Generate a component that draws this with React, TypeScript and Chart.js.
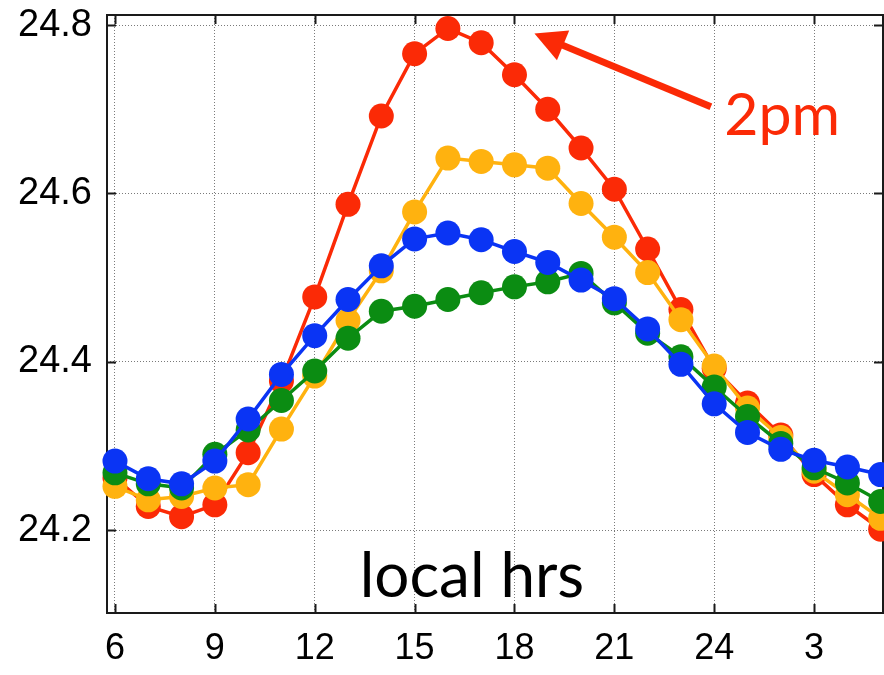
import React, { useEffect, useRef } from "react";
import { Chart, registerables } from "chart.js";

Chart.register(...registerables);

// local hours (6 .. 29 = 5am next day)
const hours = [6, 7, 8, 9, 10, 11, 12, 13, 14, 15, 16, 17, 18, 19, 20, 21, 22, 23, 24, 25, 26, 27, 28, 29];

const redSeries = [24.262, 24.228, 24.216, 24.230, 24.292, 24.377, 24.477, 24.587, 24.692, 24.766, 24.796, 24.779,
  24.741, 24.700, 24.654, 24.605, 24.534, 24.462, 24.392, 24.351, 24.313, 24.266, 24.230, 24.201];
const yellowSeries = [24.252, 24.236, 24.240, 24.250, 24.254, 24.320, 24.383, 24.449, 24.508, 24.578, 24.642, 24.638,
  24.634, 24.630, 24.588, 24.548, 24.506, 24.450, 24.395, 24.345, 24.310, 24.270, 24.242, 24.214];
const greenSeries = [24.268, 24.255, 24.250, 24.290, 24.319, 24.354, 24.389, 24.428, 24.460, 24.466, 24.474, 24.482,
  24.489, 24.495, 24.505, 24.470, 24.434, 24.406, 24.370, 24.335, 24.303, 24.274, 24.256, 24.234];
const blueSeries = [24.282, 24.261, 24.255, 24.282, 24.332, 24.385, 24.431, 24.474, 24.514, 24.546, 24.553, 24.545,
  24.531, 24.518, 24.497, 24.475, 24.439, 24.397, 24.350, 24.316, 24.296, 24.283, 24.275, 24.266];

const xTickValues = [6, 9, 12, 15, 18, 21, 24, 27];
const xTickLabels = ["6", "9", "12", "15", "18", "21", "24", "3"];
const yTickValues = [24.2, 24.4, 24.6, 24.8];
const yTickLabels = ["24.2", "24.4", "24.6", "24.8"];

const xLabelText = "local hrs";
const peakLabelText = "2pm";

const RED = "#fb2a06";
const YELLOW = "#ffb20f";
const GREEN = "#0b8c12";
const BLUE = "#0a34f4";

const toPoints = (vals: number[]) => hours.map((h, i) => ({ x: h, y: vals[i] }));
const noPad = () => ({ left: 0, top: 0, right: 0, bottom: 0 });

const framePlugin = {
  id: "frame",
  beforeDatasetsDraw(chart: any) {
    const { ctx, chartArea: a, scales } = chart;
    ctx.save();
    ctx.strokeStyle = "#1a1a1a";
    ctx.lineWidth = 2;
    ctx.strokeRect(a.left, a.top, a.right - a.left, a.bottom - a.top);
    ctx.beginPath();
    const tl = 9;
    for (const v of xTickValues) {
      const x = Math.round(scales.x.getPixelForValue(v)) + 0.5;
      ctx.moveTo(x, a.top);
      ctx.lineTo(x, a.top + tl);
      ctx.moveTo(x, a.bottom);
      ctx.lineTo(x, a.bottom - tl);
    }
    for (const v of yTickValues) {
      const y = Math.round(scales.y.getPixelForValue(v)) + 0.5;
      ctx.moveTo(a.left, y);
      ctx.lineTo(a.left + tl, y);
      ctx.moveTo(a.right, y);
      ctx.lineTo(a.right - tl, y);
    }
    ctx.stroke();
    ctx.restore();
  },
  afterDraw(chart: any) {
    const { ctx, scales } = chart;
    const xs = scales.x;
    const ys = scales.y;
    ctx.save();
    // x axis label inside plot
    ctx.fillStyle = "#000";
    ctx.font = "62px Lato, 'Open Sans', sans-serif";
    ctx.textBaseline = "alphabetic";
    ctx.textAlign = "left";
    ctx.fillText(xLabelText, xs.getPixelForValue(13.35), ys.getPixelForValue(24.121));

    // 2pm label
    ctx.fillStyle = RED;
    ctx.font = "59px Lato, 'Open Sans', sans-serif";
    ctx.fillText(peakLabelText, xs.getPixelForValue(24.3), ys.getPixelForValue(24.669));

    // arrow
    const tipX = xs.getPixelForValue(18.6);
    const tipY = ys.getPixelForValue(24.79);
    const tailX = xs.getPixelForValue(23.9);
    const tailY = ys.getPixelForValue(24.703);
    const dx = tipX - tailX;
    const dy = tipY - tailY;
    const len = Math.hypot(dx, dy);
    const ux = dx / len;
    const uy = dy / len;
    const headLen = 31;
    const headHalf = 16;
    const bx = tipX - headLen * ux;
    const by = tipY - headLen * uy;
    ctx.strokeStyle = RED;
    ctx.lineWidth = 7;
    ctx.beginPath();
    ctx.moveTo(tailX, tailY);
    ctx.lineTo(bx + 4 * ux, by + 4 * uy);
    ctx.stroke();
    ctx.fillStyle = RED;
    ctx.beginPath();
    ctx.moveTo(tipX, tipY);
    ctx.lineTo(bx - headHalf * uy, by + headHalf * ux);
    ctx.lineTo(bx + headHalf * uy, by - headHalf * ux);
    ctx.closePath();
    ctx.fill();
    ctx.restore();
  },
};

function makeDataset(label: string, vals: number[], color: string) {
  return {
    label,
    data: toPoints(vals),
    borderColor: color,
    backgroundColor: color,
    pointBackgroundColor: color,
    pointBorderColor: color,
    pointBorderWidth: 0,
    pointRadius: 12.5,
    borderWidth: 3.5,
    tension: 0,
    clip: false as any,
  };
}

export default function App() {
  const ref = useRef<HTMLCanvasElement | null>(null);
  useEffect(() => {
    document.body.style.margin = "0";
    const canvas = ref.current;
    if (!canvas) return;
    const chart = new Chart(canvas, {
      type: "line",
      data: {
        datasets: [
          makeDataset("blue", blueSeries, BLUE),
          makeDataset("green", greenSeries, GREEN),
          makeDataset("yellow", yellowSeries, YELLOW),
          makeDataset("red", redSeries, RED),
        ],
      },
      options: {
        responsive: false,
        animation: false,
        events: [],
        layout: { autoPadding: false, padding: { top: 15, right: 1, left: 0, bottom: 0 } },
        plugins: { legend: { display: false }, tooltip: { enabled: false }, title: { display: false } },
        scales: {
          x: {
            type: "linear",
            min: 5.76,
            max: 29.07,
            afterBuildTicks: (scale: any) => {
              scale.ticks = xTickValues.map((v) => ({ value: v }));
            },
            afterFit: (scale: any) => {
              scale.height = 62;
              scale.getPadding = noPad;
            },
            ticks: {
              autoSkip: false,
              maxRotation: 0,
              padding: 14,
              color: "#000",
              font: { family: "'Liberation Sans', Arial, sans-serif", size: 36 },
              callback: (_v: any, i: number) => xTickLabels[i],
            },
            grid: { color: "#7a7a7a", lineWidth: 1, drawTicks: false },
            border: { display: false, dash: [1, 2] },
          },
          y: {
            type: "linear",
            min: 24.1015,
            max: 24.812,
            afterBuildTicks: (scale: any) => {
              scale.ticks = yTickValues.map((v) => ({ value: v }));
            },
            afterFit: (scale: any) => {
              scale.width = 107;
              scale.getPadding = noPad;
            },
            ticks: {
              autoSkip: false,
              padding: 15,
              color: "#000",
              font: { family: "'Liberation Sans', Arial, sans-serif", size: 38 },
              callback: (_v: any, i: number) => yTickLabels[i],
            },
            grid: { color: "#7a7a7a", lineWidth: 1, drawTicks: false },
            border: { display: false, dash: [1, 2] },
          },
        },
      },
      plugins: [framePlugin],
    });
    return () => chart.destroy();
  }, []);
  return (
    <div style={{ width: 884, height: 675, background: "#fff" }}>
      <canvas ref={ref} width={884} height={675} style={{ display: "block", width: 884, height: 675 }} />
    </div>
  );
}
